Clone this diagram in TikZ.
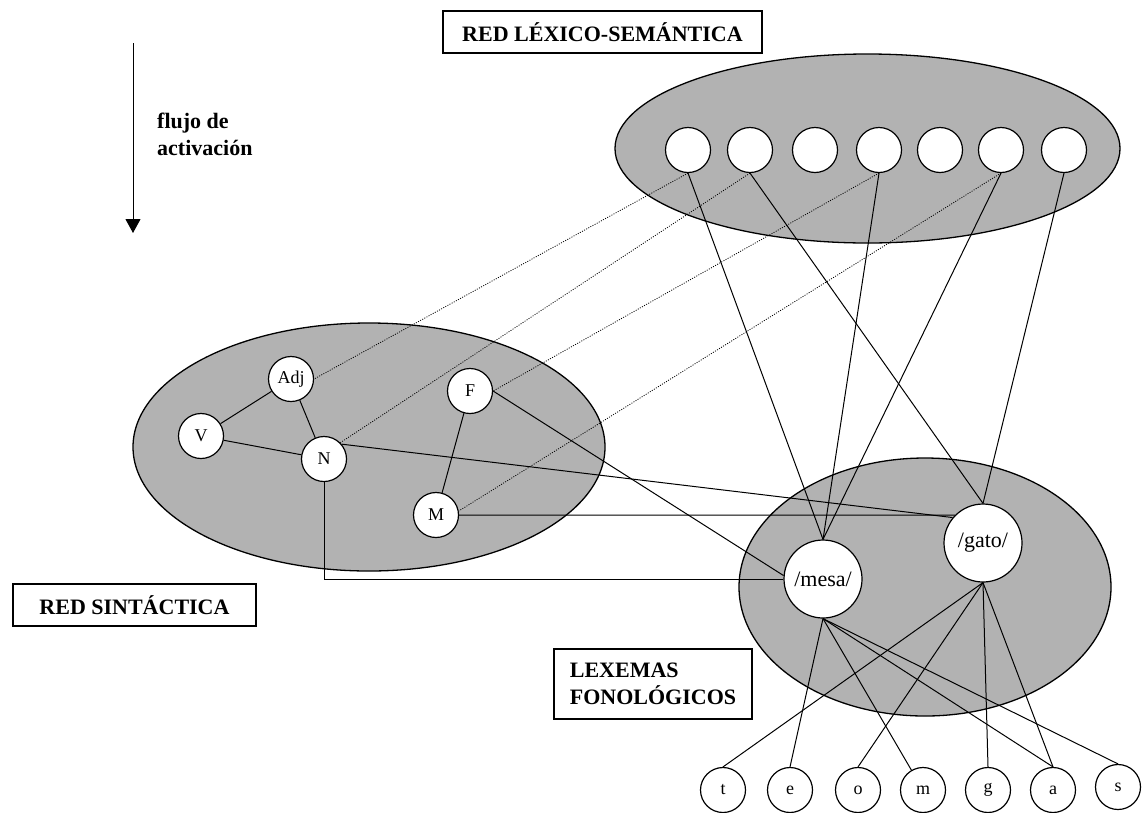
\documentclass[tikz,border=0pt]{standalone}
\usepackage{fontspec}
\setmainfont{Liberation Serif}
\usetikzlibrary{arrows.meta}
\definecolor{poolGray}{RGB}{178,178,178}
\tikzstyle{poolStyle} = [fill=poolGray, draw=black, line width=1.3pt]
\tikzstyle{unitStyle} = [circle, draw, fill=white, line width=1.2pt, minimum size=45pt, inner sep=0pt, font=\fontsize{18}{20}\selectfont]
\tikzstyle{lexemeStyle} = [unitStyle, minimum size=78pt, font=\fontsize{22}{24}\selectfont]
\tikzstyle{labelBox} = [draw, line width=2.2pt, fill=white, inner sep=0pt, font=\fontsize{22}{27}\selectfont\bfseries]
\tikzstyle{flowText} = [inner sep=0pt, font=\fontsize{22}{27}\selectfont\bfseries]
\tikzstyle{linkLine} = [line width=1pt]
\tikzstyle{weakLink} = [line width=0.8pt, dash pattern=on 1pt off 1.4pt]

\begin{document}
\begin{tikzpicture}[x=1pt, y=-1pt]
  \useasboundingbox (0,0) rectangle (1147,812);
  % the three pools
  \filldraw [poolStyle] (867.5,148.5) ellipse [x radius=252.5, y radius=94.5];
  \filldraw [poolStyle] (369,447) ellipse [x radius=236, y radius=124];
  \filldraw [poolStyle] (925,587) ellipse [x radius=186, y radius=129];

  % units
  \foreach \px [count=\i] in {688,750,815,879,940,1001,1064}
    \node [unitStyle] (sem\i) at (\px,150) {};
  \node [unitStyle] (synAdj) at (291,379) {Adj};
  \node [unitStyle] (synV) at (201,436) {V};
  \node [unitStyle] (synN) at (324,459) {N};
  \node [unitStyle] (synF) at (470,391) {F};
  \node [unitStyle] (synM) at (436,515) {M};
  \node [lexemeStyle] (mesa) at (823,579) {/mesa/};
  \node [lexemeStyle] (gato) at (983,543) {/gato/};
  \foreach \px/\py/\ph in {723/790/t,790/790/e,858/790/o,923/790/m,988/790/g,1053/790/a,1118/787/s}
    \node [unitStyle] (ph\ph) at (\px,\py) {\ph};

  % labels
  \node [labelBox, minimum width=319pt, minimum height=42pt] (semTitle) at (602.5,32) {RED LÉXICO-SEMÁNTICA};
  \node [labelBox, minimum width=243pt, minimum height=42pt] (synTitle) at (134.5,605) {RED SINTÁCTICA};
  \node [labelBox, minimum width=198pt, minimum height=70pt, align=left] (lexTitle) at (653,684) {LEXEMAS\\FONOLÓGICOS};
  \node [flowText, anchor=base west] (flowLabelA) at (157,128) {flujo de};
  \node [flowText, anchor=base west] (flowLabelB) at (157,155) {activación};
  \coordinate (flowStart) at (133,43);
  \coordinate (flowEnd) at (133,233);
  \draw [line width=1pt, -{Triangle[width=15pt,length=14pt]}] (flowStart) -- (flowEnd);

  % syntactic links
  \draw [linkLine] (synAdj) -- (synV);
  \draw [linkLine] (synAdj) -- (synN);
  \draw [linkLine] (synV) -- (synN);
  \draw [linkLine] (synF) -- (synM);
  \draw [linkLine] (synN.40) -- (gato.140);
  \draw [linkLine] (synM.east) -- (gato.135);
  \draw [linkLine] (synF.east) -- (mesa.175);
  \draw [linkLine] (synN.south) |- (mesa.west);

  % semantic links
  \foreach \i in {1,4,6}
    \draw [linkLine] (sem\i.south) -- (mesa.north);
  \foreach \i in {2,7}
    \draw [linkLine] (sem\i.south) -- (gato.north);
  \draw [weakLink] (sem1.south) -- (synAdj.east);
  \draw [weakLink] (sem2.south) -- (synN.45);
  \draw [weakLink] (sem4.south) -- (synF.east);
  \draw [weakLink] (sem6.south) -- (synM.10);

  % phoneme links
  \foreach \ph in {e,a,s}
    \draw [linkLine] (mesa.south) -- (ph\ph.north);
  \draw [linkLine] (mesa.south) -- (phm);
  \foreach \ph in {t,o,g,a}
    \draw [linkLine] (gato.south) -- (ph\ph.north);
\end{tikzpicture}
\end{document}
